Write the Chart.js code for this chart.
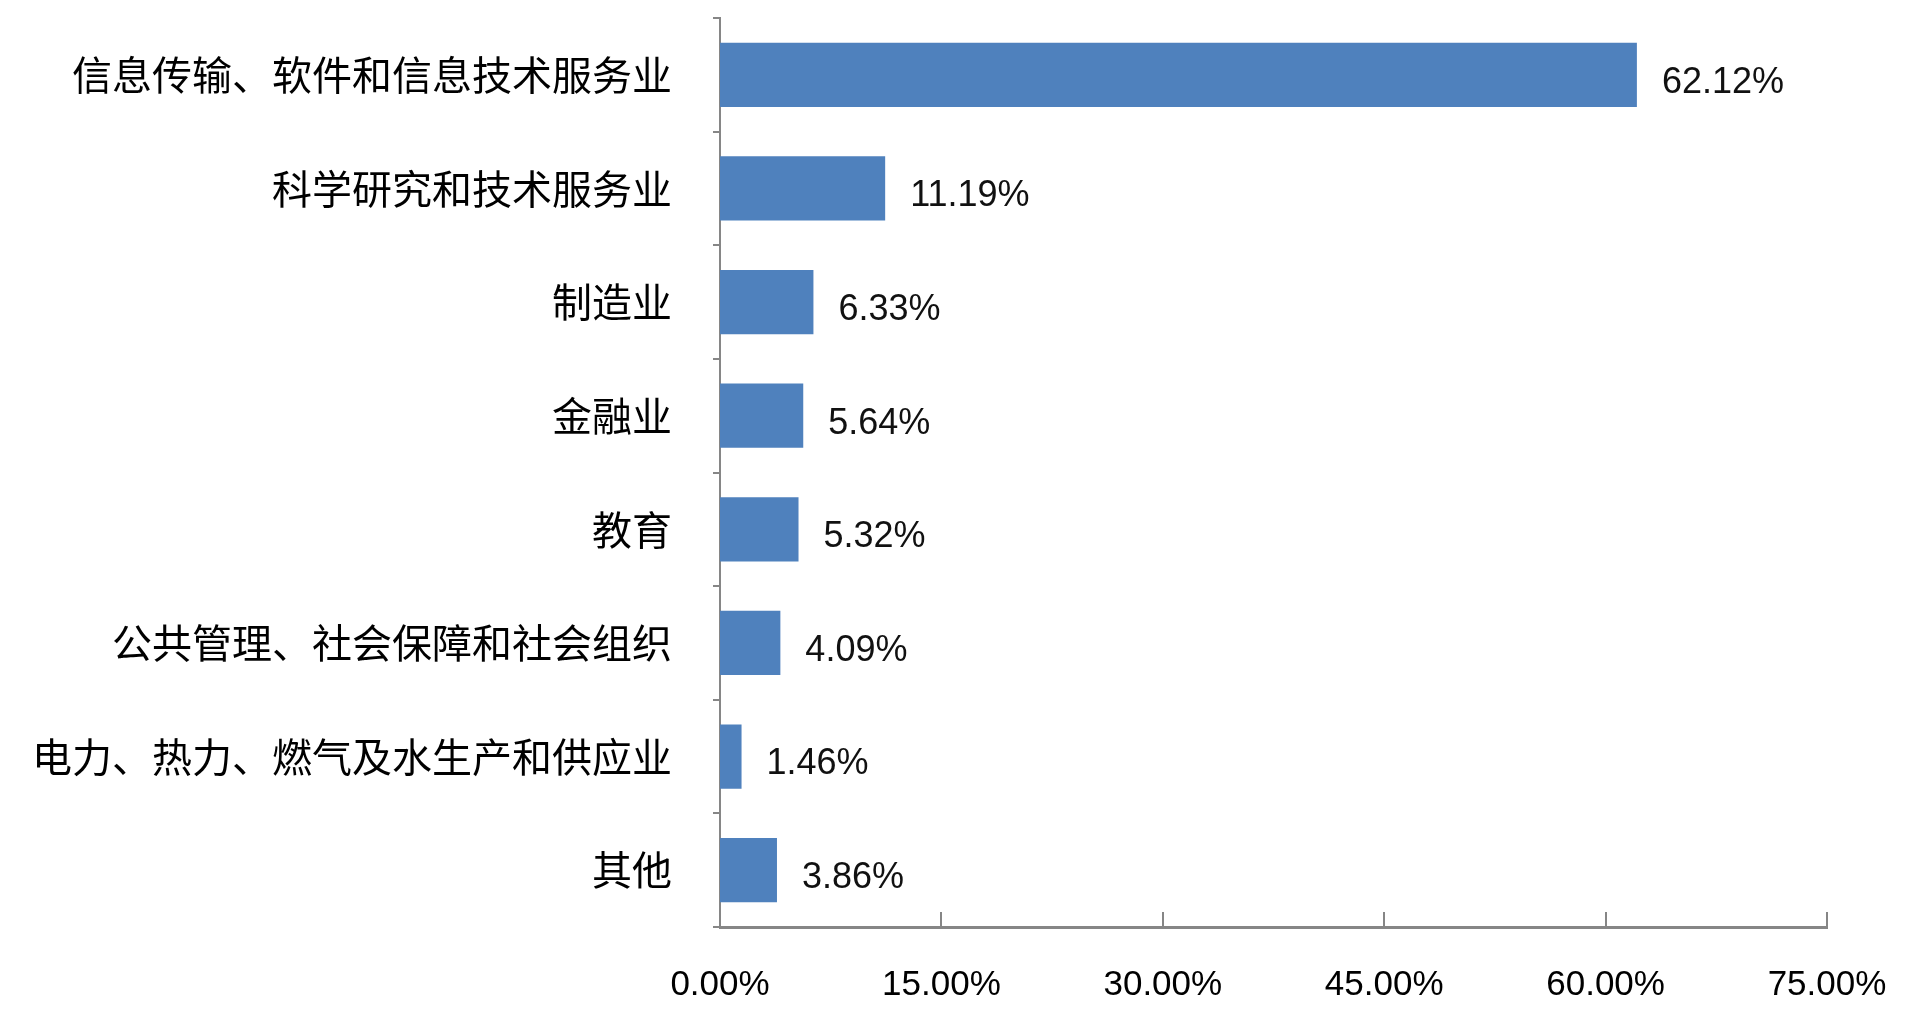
<!DOCTYPE html>
<html>
<head>
<meta charset="utf-8">
<script src="https://cdn.jsdelivr.net/npm/chart.js@4/dist/chart.umd.min.js"></script>
<style>
html,body{margin:0;padding:0;background:#fff;overflow:hidden;}
#wrap{width:1920px;height:1011px;position:relative;}
</style>
</head>
<body>
<div id="wrap"><canvas id="c" width="1920" height="1011"></canvas></div>
<script>
const categories = [
  "信息传输、软件和信息技术服务业",
  "科学研究和技术服务业",
  "制造业",
  "金融业",
  "教育",
  "公共管理、社会保障和社会组织",
  "电力、热力、燃气及水生产和供应业",
  "其他"
];
const shares = [62.12, 11.19, 6.33, 5.64, 5.32, 4.09, 1.46, 3.86];
const axisMax = 75;
const axisStep = 15;

const axisGrey = '#868686';
const barBlue = '#4F81BD';

const valueLabels = {
  id: 'valueLabels',
  afterDatasetsDraw(chart) {
    const ctx = chart.ctx;
    const meta = chart.getDatasetMeta(0);
    ctx.save();
    ctx.font = '36px "Liberation Sans", Arial, sans-serif';
    ctx.fillStyle = '#111';
    ctx.textAlign = 'left';
    ctx.textBaseline = 'middle';
    meta.data.forEach((bar, i) => {
      ctx.fillText(shares[i].toFixed(2) + '%', bar.x + 25, bar.y + 8);
    });
    ctx.restore();
  },
  afterDraw(chart) {
    const ctx = chart.ctx;
    const xs = chart.scales.x;
    const area = chart.chartArea;
    ctx.save();
    ctx.strokeStyle = axisGrey;
    ctx.lineWidth = 2;
    for (let v = axisStep; v <= axisMax; v += axisStep) {
      const px = Math.round(xs.getPixelForValue(v));
      ctx.beginPath();
      ctx.moveTo(px, area.bottom);
      ctx.lineTo(px, area.bottom - 15);
      ctx.stroke();
    }
    ctx.restore();
  }
};

new Chart(document.getElementById('c'), {
  type: 'bar',
  data: {
    labels: categories,
    datasets: [{
      data: shares,
      backgroundColor: barBlue,
      borderWidth: 0,
      categoryPercentage: 1,
      barPercentage: 0.565
    }]
  },
  options: {
    indexAxis: 'y',
    responsive: false,
    animation: false,
    layout: { padding: { top: 18, right: 93, left: 0, bottom: 0 } },
    plugins: { legend: { display: false }, tooltip: { enabled: false } },
    scales: {
      x: {
        min: 0,
        max: axisMax,
        ticks: {
          stepSize: axisStep,
          padding: 37,
          color: '#000',
          font: { family: '"Liberation Sans", Arial, sans-serif', size: 35 },
          callback: v => v.toFixed(2) + '%'
        },
        grid: { display: false, drawTicks: false },
        border: { display: true, color: axisGrey, width: 3 },
        afterFit(scale) {
          scale.height = 84;
          scale.paddingLeft = 0; scale.paddingRight = 0;
          scale.paddingTop = 0; scale.paddingBottom = 0;
        }
      },
      y: {
        ticks: {
          padding: 41,
          color: '#000',
          font: { family: '"Noto Sans CJK SC", sans-serif', size: 40 }
        },
        grid: {
          offset: true,
          drawOnChartArea: false,
          drawTicks: true,
          tickLength: 7,
          color: axisGrey,
          lineWidth: 2
        },
        border: { display: true, color: axisGrey, width: 2 },
        afterFit(scale) {
          scale.width = 720;
          scale.paddingTop = 0; scale.paddingBottom = 0;
          scale.paddingLeft = 0; scale.paddingRight = 0;
        }
      }
    }
  },
  plugins: [valueLabels]
});
</script>
</body>
</html>
